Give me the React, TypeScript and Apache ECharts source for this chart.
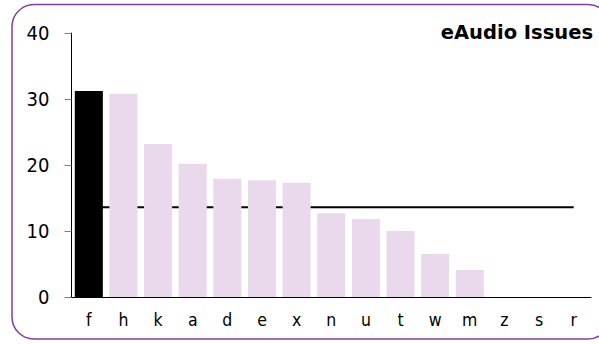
import React, { useEffect, useRef } from "react";
import * as echarts from "echarts";

const categories = ["f", "h", "k", "a", "d", "e", "x", "n", "u", "t", "w", "m", "z", "s", "r"];
const issueCounts = [31.2, 30.8, 23.2, 20.2, 17.9, 17.7, 17.3, 12.7, 11.8, 10.0, 6.5, 4.1, 0, 0, 0];
const averageLine = [13.6, 13.6, 13.6, 13.6, 13.6, 13.6, 13.6, 13.6, 13.6, 13.6, 13.6, 13.6, 13.6, 13.6, 13.6];
const yTicks = [0, 10, 20, 30, 40];
const highlightIndex = 0;
const title = "eAudio Issues";

export default function App() {
  const ref = useRef<HTMLDivElement>(null);
  useEffect(() => {
    if (!ref.current) return;
    const chart = echarts.init(ref.current, null, { renderer: "svg" });
    const font = "'DejaVu Sans Condensed', 'DejaVu Sans', sans-serif";
    const titleFont = "'DejaVu Sans', sans-serif";
    chart.setOption({
      animation: false,
      textStyle: { fontFamily: font },
      graphic: [
        {
          type: "rect",
          shape: { x: 12, y: 4.5, width: 598, height: 334.5, r: 22 },
          style: { fill: "none", stroke: "#7b3fb0", lineWidth: 1.5 },
          z: -10,
        },
        {
          type: "text",
          right: 6,
          top: 22,
          style: {
            text: title,
            font: `bold 19.5px ${titleFont}`,
            fill: "#000",
          },
        },
      ],
      grid: { left: 71.5, right: 8, top: 33, bottom: 48 },
      xAxis: {
        type: "category",
        data: categories,
        axisLine: { lineStyle: { color: "#000", width: 1 } },
        axisTick: { show: false },
        axisLabel: { color: "#000", fontSize: 17.5, margin: 14, fontFamily: font },
      },
      yAxis: {
        type: "value",
        min: yTicks[0],
        max: yTicks[yTicks.length - 1],
        interval: 10,
        axisLine: { show: true, lineStyle: { color: "#000", width: 1 } },
        axisTick: { show: true, length: 7, lineStyle: { color: "#808080" } },
        splitLine: { show: false },
        axisLabel: { color: "#000", fontSize: 20, margin: 22, fontFamily: font },
      },
      series: [
        {
          type: "line",
          data: averageLine,
          symbol: "none",
          lineStyle: { color: "#000", width: 2 },
          z: 1,
          silent: true,
        },
        {
          type: "bar",
          data: issueCounts.map((v, i) => ({
            value: v,
            itemStyle: { color: i === highlightIndex ? "#000" : "#ead9ec" },
          })),
          barCategoryGap: "19%",
          z: 2,
        },
      ],
    });
    return () => chart.dispose();
  }, []);
  return (
    <div
      ref={ref}
      style={{ position: "fixed", left: 0, top: 0, width: 599, height: 345, background: "#fff" }}
    />
  );
}
